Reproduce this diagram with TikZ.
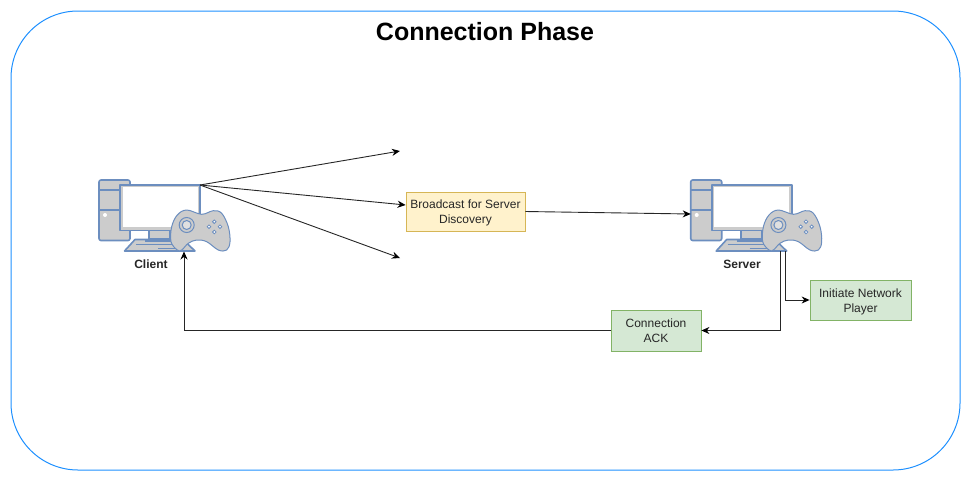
\documentclass[tikz,border=0pt]{standalone}
\usepackage{fontspec}
\setmainfont{Liberation Sans}
\usetikzlibrary{arrows.meta}
\definecolor{framecol}{HTML}{1E90FF}
\definecolor{pcfill}{HTML}{CCCCCC}
\definecolor{pcline}{HTML}{6C8EBF}
\definecolor{bcfill}{HTML}{FFF2CC}
\definecolor{bcline}{HTML}{D6B656}
\definecolor{stepfill}{HTML}{D5E8D4}
\definecolor{stepline}{HTML}{82B366}
\tikzset{
  txt/.style={font=\fontsize{12}{15}\selectfont, align=center, text=black!85},
  bcbox/.style={draw=bcline, fill=bcfill, line width=0.8pt, minimum width=119pt, minimum height=39pt, inner sep=0pt, txt},
  stepbox/.style={draw=stepline, fill=stepfill, line width=0.8pt, minimum height=40pt, inner sep=0pt, txt},
  pcpart/.style={draw=pcline, fill=pcfill, line width=1.6pt, line join=round},
  pclabel/.style={font=\fontsize{12}{14}\selectfont\bfseries, text=black!85, inner sep=0pt},
  link/.style={line width=0.9pt, draw=black!85, -{Stealth[length=8pt,width=7pt,color=black]}},
  gamepc/.pic={
    % tower
    \draw[pcpart, rounded corners=2pt] (0,0) rectangle (31,60.5);
    \draw[pcpart] (0,10) -- (31,10);
    \draw[pcpart] (0,30) -- (31,30);
    \fill[white] (6,35) circle (2pt);
    % monitor
    \draw[pcpart] (50,50) rectangle (71,59);
    \draw[pcpart] (21,5) rectangle (101,50.5);
    \fill[white] (23.7,7.3) rectangle (98.6,47.3);
    % keyboard
    \draw[pcpart] (25.5,71) -- (36,59.5) -- (84,59.5) -- (96,71) -- cycle;
    \draw[pcline, line width=1.4pt] (37,64.7) -- (88,64.7);
    \draw[pcline, line width=1.4pt] (46,61) -- (82,61);
    \draw[pcline, line width=1.4pt] (59,68.3) -- (77,68.3);
    % gamepad
    \draw[pcpart, line width=1pt] plot[smooth cycle, tension=0.6] coordinates {
      (78.3,70) (72,61.7) (72.7,46.7) (78.3,35) (87.7,30) (102.7,34.3) (114.3,30.7)
      (122.7,33.3) (129.3,46.7) (131,61.7) (127.7,70) (119.3,70) (107.7,61.7)
      (97.7,60) (89.3,63.3) (82.7,70)};
    \draw[pcline, fill=pcfill, line width=1pt] (87.7,45) circle (7.5pt);
    \draw[pcline, fill=white!40!pcfill, line width=1pt] (87.7,45) circle (4.5pt);
    \foreach \bx/\by in {115.3/41.7,110/46.7,121/46.7,115.3/52}{
      \draw[pcline, fill=white, line width=0.8pt] (\bx,\by) circle (1.8pt);
    }
    % ends for the links
    \coordinate (-out) at (101,5);
    \coordinate (-in) at (0,34);
    \coordinate (-back) at (85,71.5);
    \coordinate (-ack) at (90,71);
    \coordinate (-init) at (94.5,71);
  }
}
\begin{document}
\begin{tikzpicture}[x=1pt, y=-1pt]
  \useasboundingbox (0,0) rectangle (971,482);

  \draw[framecol, line width=1pt, rounded corners=67pt] (11,11) rectangle (960,470);
  \node[font=\fontsize{25}{30}\selectfont\bfseries] (title) at (485,32) {Connection Phase};

  \pic (client) at (99,180) {gamepc};
  \pic (server) at (690.7,180) {gamepc};
  \node[pclabel] (clientname) at (151,264) {Client};
  \node[pclabel] (servername) at (742,264) {Server};

  \node[bcbox] (broadcast) at (465.5,211.5) {\rule{0pt}{10.5pt}Broadcast for Server\\Discovery};
  \node[stepbox, minimum width=90pt, minimum height=41pt] (ack) at (656,330.5) {Connection\\ACK};
  \node[stepbox, minimum width=101pt] (initiate) at (860.5,300) {\rule{0pt}{12pt}Initiate Network\\Player};

  \coordinate (upend) at (400,151);
  \coordinate (downend) at (400,258);

  \draw[link] (client-out) -- (upend);
  \draw[link] (client-out) -- ([yshift=6.5pt]broadcast.west);
  \draw[link] (client-out) -- (downend);
  \draw[link] (broadcast.east) -- (server-in);
  \draw[link] (server-ack) |- (ack.east);
  \draw[link] (server-init) |- (initiate.west);
  \draw[link] (ack.west) -| (client-back);
\end{tikzpicture}
\end{document}
